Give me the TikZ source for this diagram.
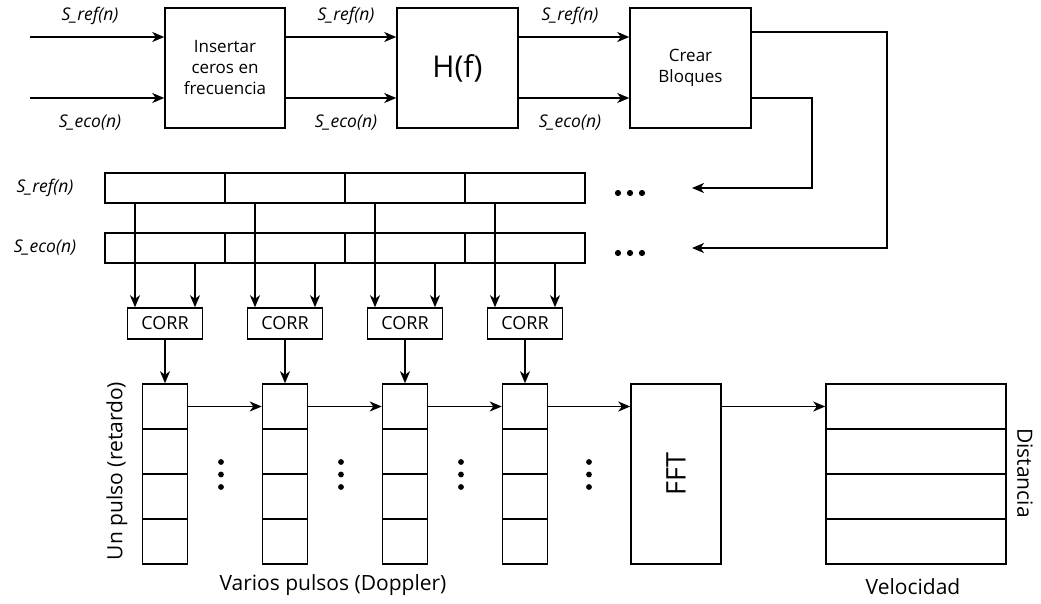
\documentclass[tikz,border=0pt]{standalone}
\usepackage{graphicx}
\usepackage{fontspec}
\setmainfont{Open Sans}
\usetikzlibrary{arrows.meta,calc}
\begin{document}
\begin{tikzpicture}[x=1pt,y=-1pt,
  line width=1.5pt,
  arr/.style={-{Stealth[length=12pt,width=10pt,inset=3.5pt]}},
  blk/.style={draw, minimum width=120pt, minimum height=120pt, inner sep=0pt,
    align=center, font=\fontsize{17}{21}\selectfont},
  sig/.style={inner sep=0pt, font=\itshape\fontsize{17.5}{20}\selectfont},
  cell/.style={draw, minimum width=120pt, minimum height=30pt, inner sep=0pt},
  corr/.style={draw, minimum width=75pt, minimum height=31pt, inner sep=0pt,
    font=\fontsize{18}{20}\selectfont},
  sq/.style={draw, minimum width=45pt, minimum height=45pt, inner sep=0pt},
  lbl/.style={inner sep=0pt, font=\fontsize{21}{25}\selectfont}
]
\useasboundingbox (0,0) rectangle (1041,603);

% processing chain
\node[blk] (b1) at (225,68) {Insertar\\ceros en\\frecuencia};
\node[blk, minimum width=121pt, font=\fontsize{30}{34}\selectfont] (b2) at (457.5,68) {H(f)};
\node[blk, minimum width=121pt] (b3) at (690.5,68) {Crear\\Bloques};

\coordinate (in1) at (30,37);
\coordinate (in2) at (30,98);
\draw[arr] (in1) -- (b1.west |- in1);
\draw[arr] (in2) -- (b1.west |- in2);
\draw[arr] (b1.east |- in1) -- (b2.west |- in1);
\draw[arr] (b1.east |- in2) -- (b2.west |- in2);
\draw[arr] (b2.east |- in1) -- (b3.west |- in1);
\draw[arr] (b2.east |- in2) -- (b3.west |- in2);

\node[sig] (l1) at (90,16) {S\_ref(n)};
\node[sig] (l2) at (90,123) {S\_eco(n)};
\node[sig] (l3) at (346,16) {S\_ref(n)};
\node[sig] (l4) at (346,123) {S\_eco(n)};
\node[sig] (l5) at (570,16) {S\_ref(n)};
\node[sig] (l6) at (570,123) {S\_eco(n)};

% block rows, correlators and pulse stacks
\foreach \i in {1,...,4} {
  \pgfmathsetmacro\cx{165+120*(\i-1)}
  \node[cell] (r\i) at (\cx,188) {};
  \node[cell] (e\i) at (\cx,248) {};
  \node[corr] (c\i) at (\cx,323.5) {CORR};
  \foreach \j in {1,...,4} {
    \node[sq] (s\i\j) at (\cx,{406.5+45*(\j-1)}) {};
  }
}
\node[sig] (lr) at (45,188) {S\_ref(n)};
\node[sig] (le) at (45,248) {S\_eco(n)};

\foreach \i in {1,...,4} {
  \draw[arr] ([xshift=-30pt]r\i.south) -- ([xshift=-30pt]c\i.north);
  \draw[arr] ([xshift=30pt]e\i.south) -- ([xshift=30pt]c\i.north);
  \draw[arr] (c\i.south) -- (s\i1.north);
}
\foreach \i/\k in {1/2,2/3,3/4}
  \draw[arr] (s\i1.east) -- (s\k1.west);

% feedback of the blocks into the rows
\coordinate (ta) at (692,188);
\coordinate (tb) at (692,248);
\draw[arr] (b3.east |- in2) -- ++(60,0) |- (ta);
\draw[arr] ([yshift=36pt]b3.east) -- ++(135,0) |- (tb);

% continuation dots
\foreach \x in {618,630,642} {
  \fill (\x,193) circle (3.1pt);
  \fill (\x,253) circle (3.1pt);
}
\foreach \x in {221,341,461,589}
  \foreach \y in {462,474.5,487}
    \fill (\x,\y) circle (2.9pt);

% FFT and result matrix
\node[draw, minimum width=90pt, minimum height=180pt, inner sep=0pt,
  font=\fontsize{27}{30}\selectfont] (fft) at (676,474) {\rotatebox{90}{FFT}};
\draw[arr] (s41.east) -- (s41.east -| fft.west);
\foreach \j in {1,...,4}
  \node[draw, minimum width=180pt, minimum height=45pt, inner sep=0pt]
    (v\j) at (916,{406.5+45*(\j-1)}) {};
\draw[arr] (v1.west -| fft.east) -- (v1.west);

% axis labels
\node[lbl, rotate=90] (ax1) at (117,471) {Un pulso (retardo)};
\node[lbl] (ax2) at (333,585) {Varios pulsos (Doppler)};
\node[lbl] (ax3) at (913,587) {Velocidad};
\node[lbl, rotate=-90] (ax4) at (1025,473) {Distancia};
\end{tikzpicture}
\end{document}
